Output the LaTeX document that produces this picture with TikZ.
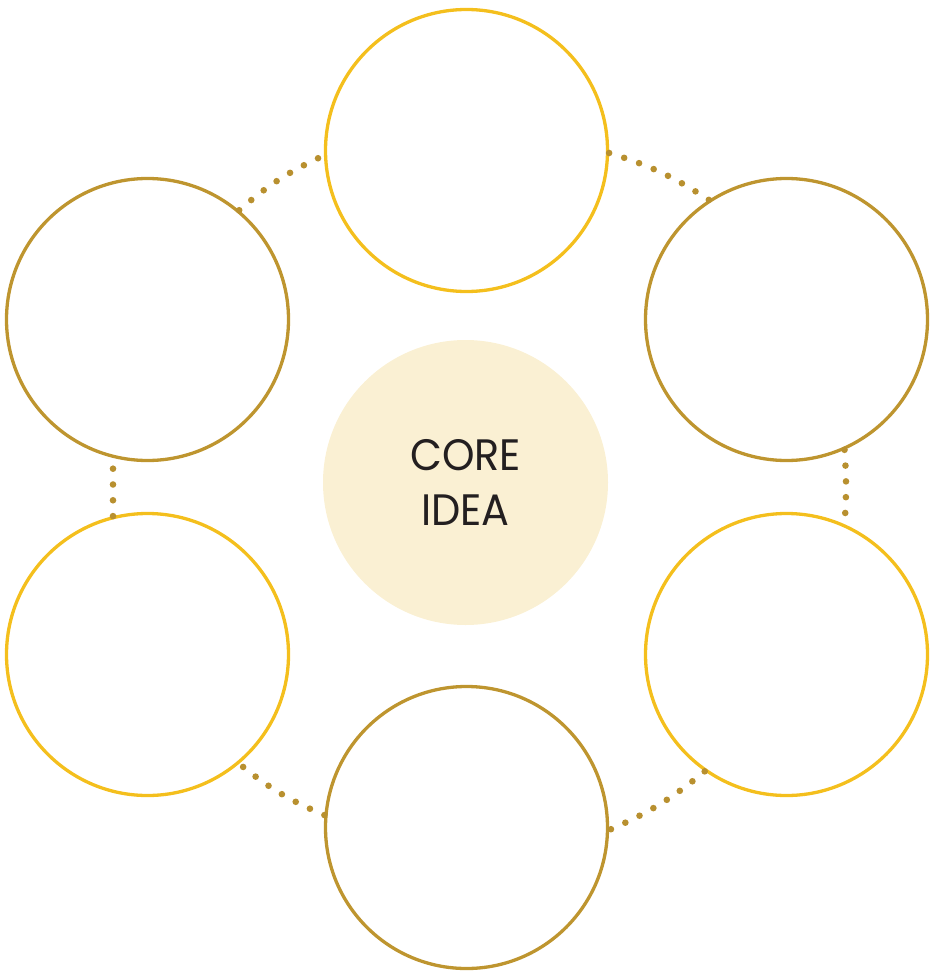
\documentclass[tikz,border=0pt]{standalone}
\usepackage{fontspec}
\setmainfont{Poppins}[FakeStretch=0.94]
\definecolor{ygold}{HTML}{F4BF1D}
\definecolor{dgold}{HTML}{BE952F}
\definecolor{dotc}{HTML}{B8902F}
\definecolor{corefill}{HTML}{FAF0D3}
\definecolor{txt}{HTML}{231F20}
\begin{document}
\begin{tikzpicture}[x=0.5pt,y=-0.5pt,
  ring/.style={circle,draw,line width=1.65pt,minimum size=141pt,inner sep=0pt},
  yring/.style={ring,draw=ygold},
  dring/.style={ring,draw=dgold},
  link/.style={draw=dotc,line width=3.3pt,line cap=round,dash pattern=on 0pt off 7.9pt},
  core/.style={circle,fill=corefill,minimum size=142.5pt,inner sep=0pt,text=txt,align=center,
    font=\fontsize{22}{27.5}\selectfont}]
\useasboundingbox (0,0) rectangle (934,973);
\node[core] (c) at (465.5,482.5) {CORE\\IDEA};
\node[yring] (t) at (466.5,150.5) {};
\node[dring] (tl) at (147.5,319.5) {};
\node[dring] (tr) at (786.5,319.5) {};
\node[yring] (bl) at (147.5,654.5) {};
\node[yring] (br) at (786.5,654.5) {};
\node[dring] (b) at (466.5,827.5) {};
\draw[link] (tl.50) to[bend left=8] (t.182);
\draw[link] (t.-1) to[bend left=8] (tr.123);
\draw[link] (tr.-66) to[bend left=4] (br.66);
\draw[link] (br.-125) to[bend left=8] (b.-1);
\draw[link] (b.175) to[bend left=8] (bl.-50);
\draw[link] (bl.104) -- (tl.-104);
\end{tikzpicture}
\end{document}
